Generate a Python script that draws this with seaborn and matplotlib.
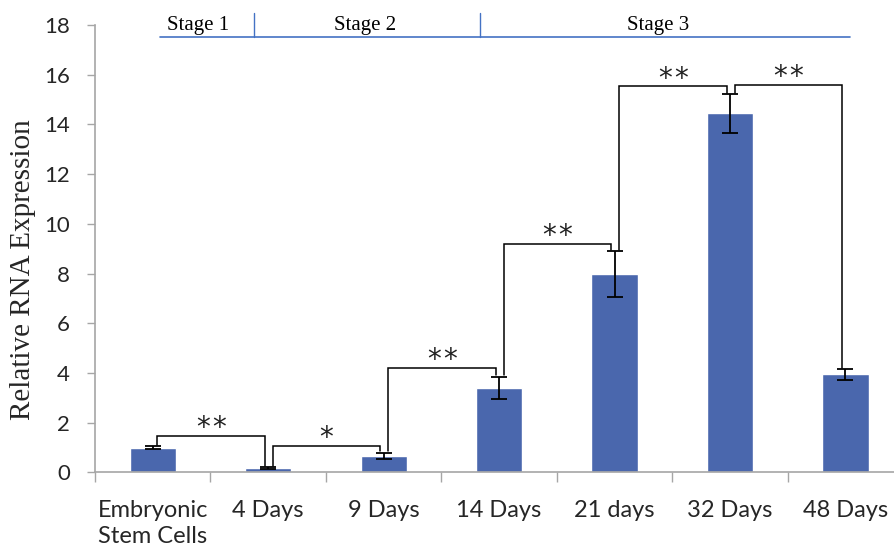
import matplotlib
matplotlib.use("Agg")
import matplotlib.pyplot as plt
import seaborn as sns
import pandas as pd

# Relative RNA expression across differentiation time points
categories = ["Embryonic\nStem Cells", "4 Days", "9 Days", "14 Days", "21 days", "32 Days", "48 Days"]
expression = [1.0, 0.17, 0.67, 3.4, 7.97, 14.45, 3.95]
errors = [0.07, 0.04, 0.13, 0.46, 0.93, 0.78, 0.22]

# Significance comparisons: (left index, right index, label)
comparisons = [(0, 1, "**"), (1, 2, "*"), (2, 3, "**"), (3, 4, "**"), (4, 5, "**"), (5, 6, "**")]
# Height of each bracket's horizontal bar
bracket_tops = [1.48, 1.08, 4.21, 9.2, 15.53, 15.6]

stage_labels = ["Stage 1", "Stage 2", "Stage 3"]

df = pd.DataFrame({"group": categories, "value": expression})

sns.set_style("white")
plt.rcParams["font.family"] = ["Lato", "DejaVu Sans"]

fig = plt.figure(figsize=(8.94, 5.51), dpi=100)
ax = fig.add_axes([0.1063, 0.1425, 0.904, 0.812])

bar_color = "#4A67AD"
sns.barplot(data=df, x="group", y="value", color=bar_color, width=0.4,
            saturation=1, errorbar=None, ax=ax, zorder=2)
ax.errorbar(range(len(categories)), expression, yerr=errors, fmt="none",
            ecolor="black", elinewidth=1.3, capsize=5.5, capthick=1.3, zorder=3)

ax.set_xlim(-0.5, len(categories) - 0.5)
ax.set_ylim(0, 18)
ax.set_yticks(range(0, 19, 2))
ax.tick_params(axis="y", labelsize=16, length=6, width=1, color="#a6a6a6", pad=12,
               direction="out", left=True)
ax.set_xticks(range(len(categories)))
ax.set_xticklabels(categories, fontsize=17)
for lbl in ax.get_xticklabels():
    lbl.set_linespacing(1.3)
ax.set_xticks([i - 0.5 for i in range(len(categories) + 1)], minor=True)
ax.tick_params(axis="x", which="major", length=0, pad=20)
ax.tick_params(axis="x", which="minor", length=7, width=1, color="#a6a6a6", bottom=True)

for side in ("top", "right"):
    ax.spines[side].set_visible(False)
for side in ("left", "bottom"):
    ax.spines[side].set_color("#a6a6a6")
    ax.spines[side].set_linewidth(1.2)

ax.set_ylabel("Relative RNA Expression", family=["Liberation Serif"], fontsize=21)
ax.yaxis.set_label_coords(-0.073, 0.4525)
ax.set_xlabel("")

# Significance brackets; asterisks are spaced out a little
star_step = 11.5  # points between asterisk centres
for (i, j, lab), top in zip(comparisons, bracket_tops):
    xl, xr = i + 0.04, j - 0.03
    yl = expression[i] + errors[i] + 0.05
    yr = expression[j] + errors[j] + 0.05
    ax.plot([xl, xl, xr, xr], [yl, top, top, yr], color="black", lw=1.1,
            zorder=4, solid_joinstyle="miter")
    n = len(lab)
    for k, ch in enumerate(lab):
        dx = (k - (n - 1) / 2) * star_step
        ax.annotate(ch, xy=((xl + xr) / 2, top - 0.02), xytext=(dx, 0),
                    textcoords="offset points", ha="center", va="baseline",
                    fontsize=20, family=["DejaVu Sans"], color="#222222")

# Stage header above the plot
stage_color = "#4472C4"
line_y = 17.53
ax.plot([0.063, 6.04], [line_y, line_y], color=stage_color, lw=1.2, clip_on=False)
for xd in (0.878, 2.836):
    ax.plot([xd, xd], [line_y, 18.5], color=stage_color, lw=1.0, clip_on=False)
for xc, lab in zip((0.39, 1.84, 4.38), stage_labels):
    ax.text(xc, 18.0, lab, ha="center", va="center", fontsize=15,
            family=["Liberation Serif"], color="black", clip_on=False)

fig.savefig("out.png", dpi=100)
